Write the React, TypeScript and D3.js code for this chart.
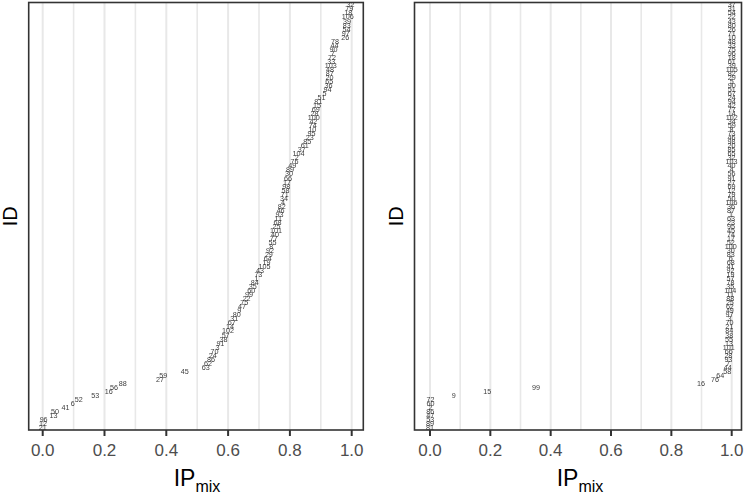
import React from "react";
import * as d3 from "d3";

// Left panel: IDs ordered from lowest to highest IPmix
const leftIds = [
  21, 12, 96, 13, 50, 41, 6, 52, 53, 16, 56, 88, 27, 59, 45, 63, 62,
  86, 24, 70, 3, 91, 38, 57, 102, 14, 67, 31, 80, 9, 47, 75, 22, 99, 60, 35, 84,
  1, 73, 43, 105, 19, 64, 29, 92, 8, 55, 77, 40, 101, 25, 68, 11, 93, 46, 82, 4,
  34, 71, 58, 98, 17, 66, 30, 89, 49, 76, 2, 104, 37, 61, 85, 23, 95, 10, 74, 42,
  100, 28, 69, 15, 81, 51, 5, 94, 36, 65, 20, 87, 48, 103, 33, 72, 7, 90, 44, 78,
  26, 97, 54, 83, 39, 106, 18, 79, 32,
];
const leftValues = [
  0.0, 0.001, 0.003, 0.035, 0.04, 0.074, 0.097, 0.117, 0.17, 0.214,
  0.231, 0.259, 0.38, 0.39, 0.46, 0.528, 0.535, 0.545, 0.55, 0.556,
  0.566, 0.575, 0.585, 0.592, 0.6, 0.606, 0.612, 0.62, 0.628, 0.636,
  0.645, 0.652, 0.66, 0.668, 0.675, 0.68, 0.686, 0.692, 0.698, 0.703,
  0.718, 0.724, 0.728, 0.732, 0.736, 0.74, 0.744, 0.748, 0.752, 0.755,
  0.757, 0.76, 0.762, 0.766, 0.77, 0.774, 0.778, 0.781, 0.783, 0.786,
  0.788, 0.791, 0.794, 0.797, 0.8, 0.808, 0.815, 0.822, 0.828, 0.838,
  0.848, 0.856, 0.864, 0.87, 0.872, 0.874, 0.876, 0.877, 0.88, 0.884,
  0.888, 0.892, 0.902, 0.912, 0.922, 0.925, 0.927, 0.928, 0.929, 0.93,
  0.932, 0.934, 0.936, 0.939, 0.941, 0.944, 0.946, 0.979, 0.981, 0.983,
  0.984, 0.985, 0.987, 0.989, 0.992, 0.996,
];

// Right panel
const rightIds = [
  81, 89, 53, 47, 86, 2, 60, 72, 9, 15, 99, 16, 76, 64, 58,
  44, 7, 93, 28, 66, 101, 13, 55, 38, 84, 21, 70, 3, 97, 49, 62, 25, 88, 11, 104,
  35, 78, 57, 19, 92, 41, 68, 6, 83, 30, 100, 52, 17, 74, 45, 95, 23, 63, 1, 87,
  36, 106, 50, 79, 12, 69, 27, 91, 56, 4, 40, 103, 32, 65, 85, 20, 98, 46, 73, 8,
  59, 34, 102, 14, 77, 42, 94, 24, 67, 51, 90, 5, 29, 82, 105, 39, 61, 18, 96, 75,
  33, 48, 10, 71, 26, 80, 43, 22, 54, 31, 37,
];
const rightValues = [
  0.0, 0.0, 0.001, 0.001, 0.001, 0.002, 0.002, 0.002, 0.079, 0.19,
  0.351, 0.898, 0.945, 0.962, 0.985,
  0.987, 0.988, 0.989, 0.989, 0.99, 0.99, 0.991, 0.991, 0.992, 0.992,
  0.992, 0.993, 0.993, 0.993, 0.994, 0.994, 0.994, 0.995, 0.995, 0.995,
  0.995, 0.996, 0.996, 0.996, 0.996, 0.996, 0.997, 0.997, 0.997, 0.997,
  0.997, 0.997, 0.998, 0.998, 0.998, 0.998, 0.998, 0.998, 0.998, 0.998,
  0.998, 0.999, 0.999, 0.999, 0.999, 0.999, 0.999, 0.999, 0.999, 0.999,
  0.999, 0.999, 0.999, 0.999, 0.999, 0.999, 0.999, 0.999, 0.999, 0.999,
  1.0, 1.0, 1.0, 1.0, 1.0, 1.0, 1.0, 1.0, 1.0, 1.0,
  1.0, 1.0, 1.0, 1.0, 1.0, 1.0, 1.0, 1.0, 1.0, 1.0,
  1.0, 1.0, 1.0, 1.0, 1.0, 1.0, 1.0, 1.0, 1.0, 1.0, 1.0,
];

const xTicks = [0, 0.2, 0.4, 0.6, 0.8, 1.0];
const xGrid = [0, 0.1, 0.2, 0.3, 0.4, 0.5, 0.6, 0.7, 0.8, 0.9, 1.0];

const TOP = 2.5;
const BOTTOM = 430;
const FONT = "'Liberation Sans', Arial, sans-serif";

type PanelProps = {
  ids: number[];
  values: number[];
  left: number;
  right: number;
  x0: number;
  x1: number;
  titleX: number;
};

function Panel({ ids, values, left, right, x0, x1, titleX }: PanelProps) {
  const x = d3.scaleLinear().domain([0, 1]).range([x0, x1]);
  const y = d3
    .scalePoint<number>()
    .domain(d3.range(values.length))
    .range([BOTTOM, TOP])
    .padding(0.6);
  return (
    <g>
      {xGrid.map((g, i) => (
        <line
          key={"g" + i}
          x1={x(g)}
          x2={x(g)}
          y1={TOP}
          y2={BOTTOM}
          stroke="#e8e8e8"
          strokeWidth={i % 2 === 0 ? 2 : 1.6}
        />
      ))}
      <g filter="url(#gray)">
        {values.map((v, i) => (
          <text
            key={"t" + i}
            x={x(v)}
            y={y(i) as number}
            fontSize={7.2}
            fill="#3c3c3c"
            textAnchor="middle"
            dominantBaseline="central"
            fontFamily={FONT}
          >
            {ids[i]}
          </text>
        ))}
      </g>
      <rect
        x={left}
        y={TOP}
        width={right - left}
        height={BOTTOM - TOP}
        fill="none"
        stroke="#333333"
        strokeWidth={1.6}
      />
      {xTicks.map((t, i) => (
        <g key={"k" + i}>
          <line
            x1={x(t)}
            x2={x(t)}
            y1={BOTTOM}
            y2={BOTTOM + 6}
            stroke="#333333"
            strokeWidth={2}
          />
          <text
            x={x(t)}
            y={456}
            fontSize={17}
            fill="#4d4d4d"
            textAnchor="middle"
            fontFamily={FONT}
          >
            {d3.format(".1f")(t)}
          </text>
        </g>
      ))}
      <text
        x={titleX}
        y={486}
        fontSize={23}
        fill="#000"
        textAnchor="middle"
        fontFamily={FONT}
      >
        IP
        <tspan fontSize={16} dy={6}>
          mix
        </tspan>
      </text>
      <text
        transform={`translate(${left - 11.5},${(TOP + BOTTOM) / 2}) rotate(-90)`}
        fontSize={20}
        fill="#000"
        textAnchor="middle"
        fontFamily={FONT}
      >
        ID
      </text>
    </g>
  );
}

export default function App() {
  return (
    <svg
      width={750}
      height={494}
      style={{ position: "absolute", left: 0, top: 0, background: "#fff" }}
    >
      <defs>
        <filter id="gray" x="-10%" y="-10%" width="120%" height="120%">
          <feOffset dx={0} dy={0} />
        </filter>
      </defs>
      <rect x={0} y={0} width={750} height={494} fill="#fff" />
      <Panel
        ids={leftIds}
        values={leftValues}
        left={28.7}
        right={363.3}
        x0={42.7}
        x1={351.7}
        titleX={197}
      />
      <Panel
        ids={rightIds}
        values={rightValues}
        left={414.5}
        right={741.5}
        x0={430}
        x1={731.7}
        titleX={580}
      />
    </svg>
  );
}
